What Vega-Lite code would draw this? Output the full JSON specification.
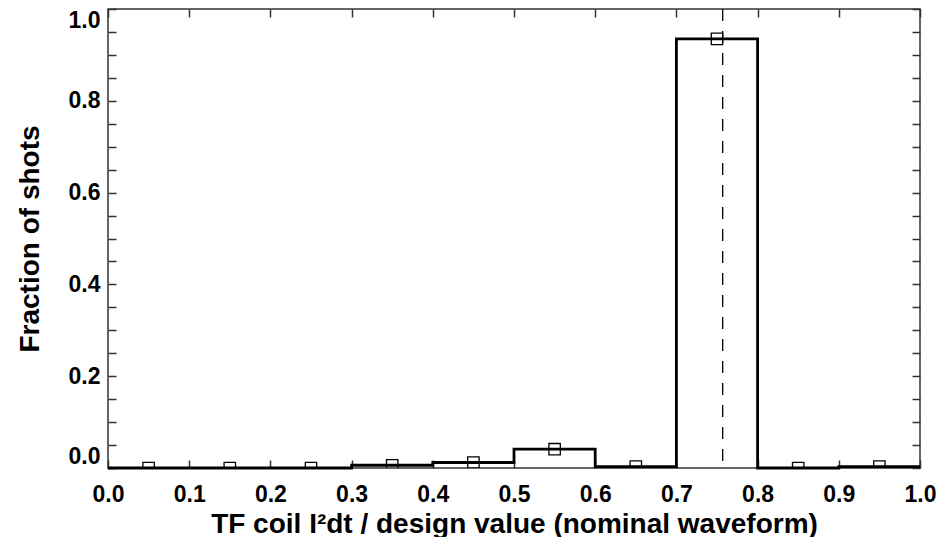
{
  "$schema": "https://vega.github.io/schema/vega-lite/v6.json",
  "width": 812,
  "height": 459,
  "autosize": {"type": "none"},
  "padding": {"left": 108, "top": 9, "right": 21, "bottom": 69},
  "background": "white",
  "config": {
    "view": {"stroke": "#333333", "strokeWidth": 1.5},
    "axis": {
      "domain": false,
      "grid": false,
      "tickSize": -8,
      "tickWidth": 1.5,
      "tickColor": "#333333",
      "labelFont": "Liberation Sans",
      "labelFontWeight": "bold",
      "labelFontSize": 23,
      "labelColor": "black",
      "labelOverlap": false,
      "labelBound": false,
      "titleFont": "Liberation Sans",
      "titleFontWeight": "bold",
      "titleFontSize": 28,
      "titleColor": "black"
    }
  },
  "resolve": {"axis": {"x": "independent", "y": "independent"}},
  "datasets": {
    "edges": [
      {"edge": 0.0, "frac": 0.0},
      {"edge": 0.1, "frac": 0.0},
      {"edge": 0.2, "frac": 0.0},
      {"edge": 0.3, "frac": 0.006},
      {"edge": 0.4, "frac": 0.012},
      {"edge": 0.5, "frac": 0.041},
      {"edge": 0.6, "frac": 0.003},
      {"edge": 0.7, "frac": 0.935},
      {"edge": 0.8, "frac": 0.0},
      {"edge": 0.9, "frac": 0.003},
      {"edge": 1.0, "frac": 0.003}
    ],
    "bins": [
      {"mid": 0.05, "frac": 0.0},
      {"mid": 0.15, "frac": 0.0},
      {"mid": 0.25, "frac": 0.0},
      {"mid": 0.35, "frac": 0.006},
      {"mid": 0.45, "frac": 0.012},
      {"mid": 0.55, "frac": 0.041},
      {"mid": 0.65, "frac": 0.003},
      {"mid": 0.75, "frac": 0.935},
      {"mid": 0.85, "frac": 0.0},
      {"mid": 0.95, "frac": 0.003}
    ],
    "marker": [{"value": 0.757}]
  },
  "layer": [
    {
      "data": {"name": "edges"},
      "mark": {"type": "line", "interpolate": "step-after", "stroke": "black", "strokeWidth": 2.8},
      "encoding": {
        "x": {
          "field": "edge", "type": "quantitative",
          "scale": {"domain": [0, 1], "nice": false, "zero": false},
          "axis": {
            "orient": "bottom",
            "values": [0, 0.1, 0.2, 0.3, 0.4, 0.5, 0.6, 0.7, 0.8, 0.9, 1.0],
            "format": ".1f",
            "labelFlush": false,
            "labelPadding": 23,
            "title": "TF coil I²dt / design value (nominal waveform)",
            "titlePadding": 4
          }
        },
        "y": {
          "field": "frac", "type": "quantitative",
          "scale": {"domain": [0, 1], "nice": false},
          "axis": {
            "orient": "left",
            "values": [0, 0.05, 0.1, 0.15, 0.2, 0.25, 0.3, 0.35, 0.4, 0.45, 0.5, 0.55, 0.6, 0.65, 0.7, 0.75, 0.8, 0.85, 0.9, 0.95, 1.0],
            "labelExpr": "(round(datum.value * 100) % 20 == 0) ? format(datum.value, '.1f') : ''",
            "labelFlush": true,
            "labelPadding": 16,
            "title": "Fraction of shots",
            "titlePadding": 24
          }
        }
      }
    },
    {
      "data": {"name": "marker"},
      "mark": {"type": "rule", "stroke": "black", "strokeWidth": 1.3, "strokeDash": [12, 10]},
      "encoding": {
        "x": {"field": "value", "type": "quantitative", "axis": null}
      }
    },
    {
      "data": {"name": "bins"},
      "mark": {"type": "point", "shape": "square", "filled": false, "stroke": "black", "strokeWidth": 1.3, "size": 130, "opacity": 1, "clip": true},
      "encoding": {
        "x": {
          "field": "mid", "type": "quantitative",
          "axis": {
            "orient": "top",
            "values": [0, 0.1, 0.2, 0.3, 0.4, 0.5, 0.6, 0.7, 0.8, 0.9, 1.0],
            "labels": false,
            "title": null
          }
        },
        "y": {
          "field": "frac", "type": "quantitative",
          "axis": {
            "orient": "right",
            "values": [0, 0.05, 0.1, 0.15, 0.2, 0.25, 0.3, 0.35, 0.4, 0.45, 0.5, 0.55, 0.6, 0.65, 0.7, 0.75, 0.8, 0.85, 0.9, 0.95, 1.0],
            "labels": false,
            "title": null
          }
        }
      }
    }
  ]
}
